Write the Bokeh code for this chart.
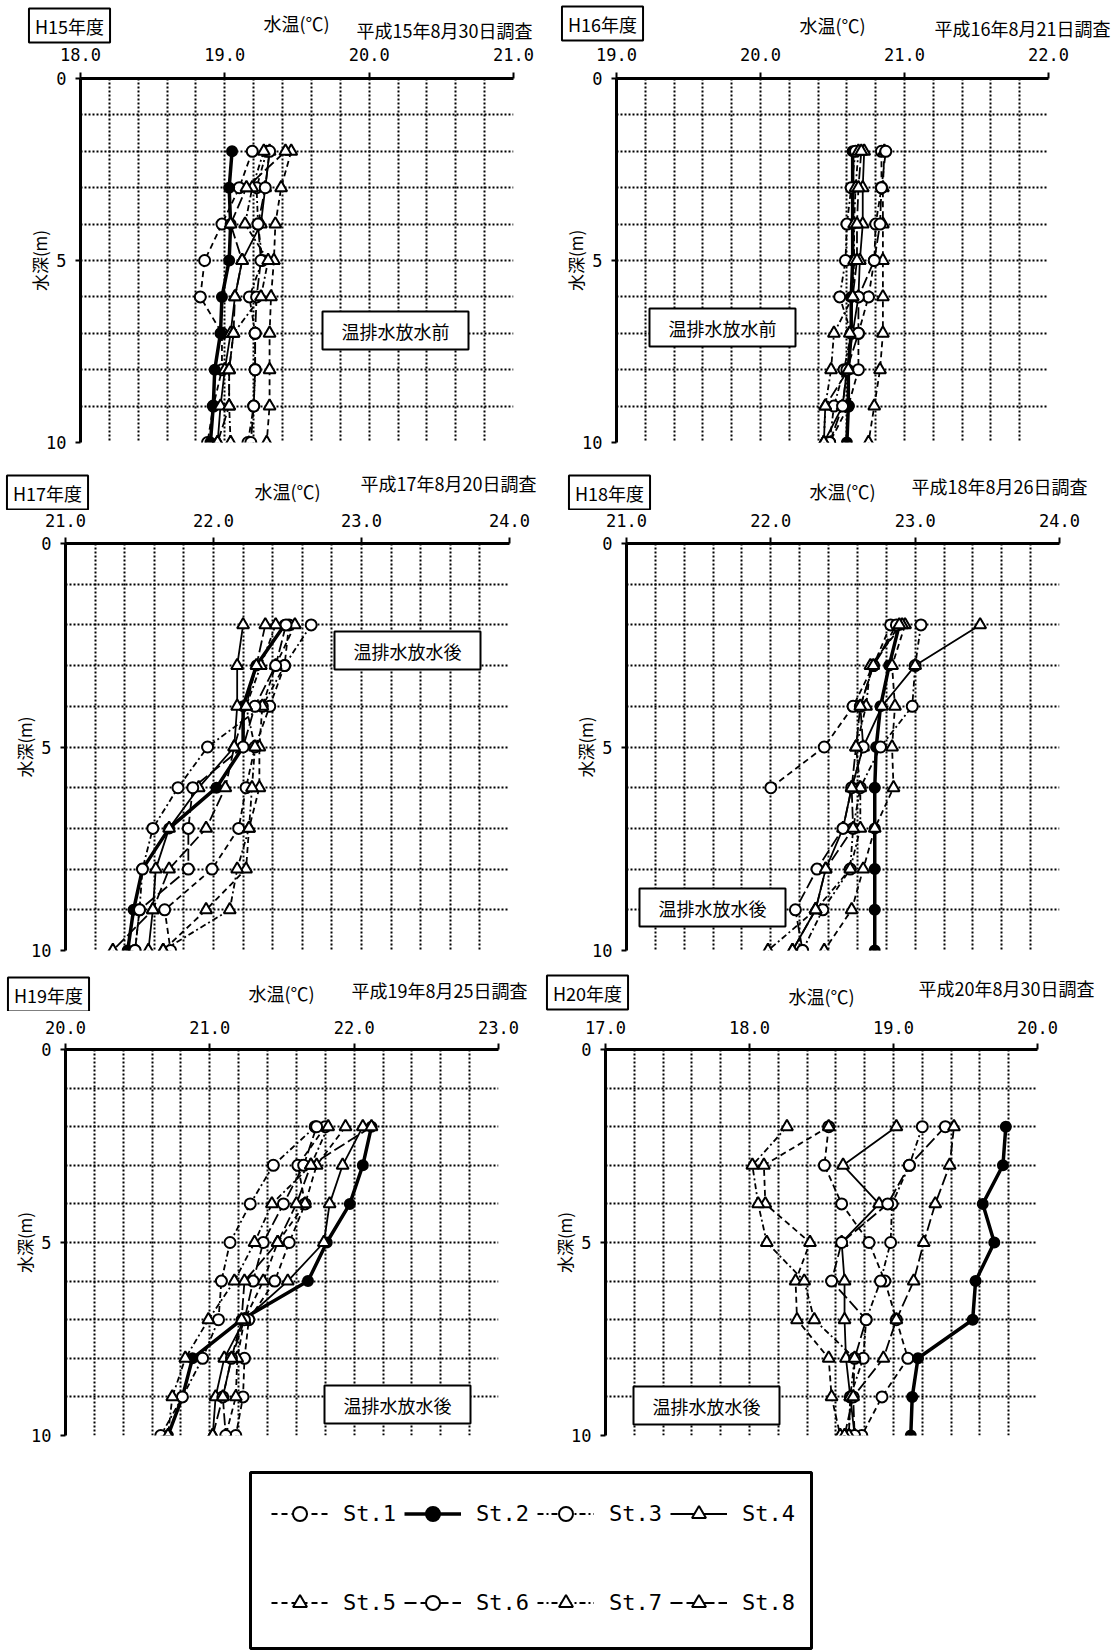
import numpy as np
from bokeh.plotting import figure
from bokeh.models import Range1d, FixedTicker, NumeralTickFormatter, Label, Legend, LegendItem, Spacer
from bokeh.layouts import column, row
from bokeh.embed import file_html
from bokeh.resources import INLINE

# ---------------- data ----------------
DEPTHS = [2, 3, 4, 5, 6, 7, 8, 9, 10]
STATIONS = ["St.1", "St.2", "St.3", "St.4", "St.5", "St.6", "St.7", "St.8"]
YEAR_TAGS = ["H15年度", "H16年度", "H17年度", "H18年度", "H19年度", "H20年度"]
SURVEY_DATES = ["平成15年8月30日調査", "平成16年8月21日調査", "平成17年8月20日調査",
                "平成18年8月26日調査", "平成19年8月25日調査", "平成20年8月30日調査"]
PHASE_NOTES = ["温排水放水前", "温排水放水前", "温排水放水後", "温排水放水後", "温排水放水後", "温排水放水後"]
TEMP_RANGES = [(18.0, 21.0), (19.0, 22.0), (21.0, 24.0), (21.0, 24.0), (20.0, 23.0), (17.0, 20.0)]
DEPTH_TICKS = [0, 5, 10]
X_LABEL = "水温(℃)"
Y_LABEL = "水深(m)"

# temperatures (°C) per station St.1..St.8 at depths 2..10 m
H15 = [
    [19.19, 19.10, 18.98, 18.86, 18.83, 18.98, 18.98, 18.92, 18.88],
    [19.05, 19.03, 19.04, 19.03, 18.98, 18.97, 18.93, 18.92, 18.90],
    [19.29, 19.22, 19.23, 19.26, 19.17, 19.21, 19.21, 19.20, 19.16],
    [19.31, 19.28, 19.25, 19.12, 19.07, 19.04, 19.00, 18.97, 18.95],
    [19.46, 19.39, 19.35, 19.34, 19.32, 19.31, 19.31, 19.31, 19.29],
    [19.31, 19.28, 19.23, 19.25, 19.22, 19.21, 19.21, 19.20, 19.18],
    [19.27, 19.19, 19.14, 19.30, 19.25, 19.06, 19.03, 19.03, 19.04],
    [19.42, 19.15, 19.04, 19.12, 19.07, 19.06, 19.03, 19.03, 18.95],
]
H16 = [
    [20.84, 20.84, 20.80, 20.79, 20.75, 20.68, 20.68, 20.61, 20.48],
    [20.64, 20.64, 20.64, 20.64, 20.63, 20.63, 20.61, 20.61, 20.60],
    [20.66, 20.63, 20.60, 20.59, 20.55, 20.63, 20.58, 20.51, 20.48],
    [20.72, 20.71, 20.71, 20.69, 20.68, 20.64, 20.60, 20.57, 20.44],
    [20.86, 20.85, 20.85, 20.85, 20.85, 20.85, 20.83, 20.79, 20.75],
    [20.87, 20.84, 20.83, 20.79, 20.68, 20.68, 20.60, 20.57, 20.48],
    [20.68, 20.66, 20.65, 20.65, 20.64, 20.51, 20.49, 20.45, 20.44],
    [20.70, 20.68, 20.67, 20.67, 20.64, 20.62, 20.61, 20.45, 20.44],
]
H17 = [
    [22.51, 22.48, 22.38, 22.28, 22.22, 22.17, 21.99, 21.67, 21.71],
    [22.48, 22.29, 22.20, 22.20, 22.02, 21.70, 21.52, 21.46, 21.42],
    [22.66, 22.48, 22.33, 21.96, 21.76, 21.59, 21.52, 21.50, 21.47],
    [22.20, 22.16, 22.16, 22.14, 21.90, 21.70, 21.61, 21.59, 21.56],
    [22.55, 22.42, 22.33, 22.31, 22.31, 22.24, 22.22, 21.95, 21.66],
    [22.49, 22.42, 22.28, 22.20, 21.86, 21.83, 21.83, 21.50, 21.47],
    [22.42, 22.32, 22.22, 22.28, 22.26, 22.24, 22.16, 22.11, 21.66],
    [22.35, 22.29, 22.22, 22.14, 22.08, 21.95, 21.70, 21.59, 21.32],
]
H18 = [
    [22.83, 22.71, 22.57, 22.37, 22.00, None, None, None, None],
    [22.89, 22.82, 22.76, 22.73, 22.72, 22.72, 22.72, 22.72, 22.72],
    [23.04, 23.00, 22.98, 22.76, 22.62, 22.57, 22.55, 22.36, 22.22],
    [23.45, 23.00, 22.77, 22.64, 22.56, 22.50, 22.38, 22.31, 22.15],
    [22.93, 22.84, 22.86, 22.84, 22.85, 22.72, 22.64, 22.56, 22.37],
    [22.87, 22.71, 22.62, 22.64, 22.56, 22.50, 22.32, 22.17, 22.22],
    [22.91, 22.69, 22.66, 22.59, 22.62, 22.62, 22.55, 22.31, 21.98],
    [22.89, 22.71, 22.62, 22.59, 22.56, 22.57, 22.38, 22.31, 22.15],
]
H19 = [
    [21.80, 21.61, 21.66, 21.55, 21.45, 21.27, 21.24, 21.23, 21.18],
    [22.12, 22.06, 21.97, 21.81, 21.68, 21.22, 20.88, 20.81, 20.71],
    [21.73, 21.44, 21.28, 21.14, 21.08, 21.06, 20.95, 20.81, 20.66],
    [22.06, 21.92, 21.83, 21.79, 21.54, 21.24, 21.10, 21.04, 21.02],
    [21.94, 21.74, 21.66, 21.47, 21.37, 21.24, 21.19, 21.18, 21.11],
    [21.74, 21.65, 21.51, 21.37, 21.30, 21.24, 21.15, 21.09, 21.11],
    [21.82, 21.70, 21.43, 21.31, 21.17, 20.99, 20.83, 20.74, 20.71],
    [22.12, 21.70, 21.60, 21.47, 21.24, 21.22, 21.15, 21.09, 21.02],
]
H20 = [
    [18.55, 18.52, 18.64, 18.83, 18.94, 19.02, 19.10, 18.92, 18.78],
    [19.78, 19.76, 19.62, 19.70, 19.57, 19.55, 19.17, 19.13, 19.12],
    [19.20, 19.11, 18.99, 18.98, 18.91, 18.81, 18.79, 18.70, 18.69],
    [19.02, 18.65, 18.90, 18.64, 18.66, 18.66, 18.67, 18.70, 18.73],
    [18.55, 18.10, 18.11, 18.42, 18.32, 18.33, 18.55, 18.57, 18.63],
    [19.36, 19.11, 18.96, 18.64, 18.57, 18.81, 18.73, 18.72, 18.73],
    [18.26, 18.02, 18.06, 18.12, 18.38, 18.45, 18.73, 18.70, 18.69],
    [19.42, 19.39, 19.29, 19.21, 19.14, 19.02, 18.93, 18.72, 18.66],
]
PANEL_DATA = [H15, H16, H17, H18, H19, H20]

# ---------------- styles ----------------
STYLES = [
    dict(dash="6 4", marker="circle", fill="white", lw=1.8, size=11),
    dict(dash="solid", marker="circle", fill="black", lw=3.5, size=10),
    dict(dash="6 3 2 3", marker="circle", fill="white", lw=1.8, size=11),
    dict(dash="solid", marker="triangle", fill="white", lw=1.8, size=12),
    dict(dash="6 4", marker="triangle", fill="white", lw=1.8, size=12),
    dict(dash="12 4", marker="circle", fill="white", lw=1.8, size=11),
    dict(dash="6 3 2 3", marker="triangle", fill="white", lw=1.8, size=12),
    dict(dash="12 4", marker="triangle", fill="white", lw=1.8, size=12),
]

JP = "Noto Sans CJK JP"
NUM = "DejaVu Sans Mono"

# page-pixel layout: header canvas (x, y, w, h), plot canvas (x, y, w, h), frame (l, t, r, b)
LAYOUT = [
    dict(head=(0, 0, 560, 44), canvas=(0, 44, 560, 426), frame=(80, 76, 513, 442),
         tag=(69, 25), title=(296, 22), date=(532, 29), note=(395, 330), tstand=12),
    dict(head=(560, 0, 560, 44), canvas=(560, 44, 560, 426), frame=(616, 78, 1048, 443),
         tag=(602, 23), title=(832, 24), date=(1110, 27), note=(722, 328), tstand=12),
    dict(head=(0, 470, 560, 40), canvas=(0, 510, 560, 455), frame=(65, 541, 509, 950),
         tag=(47, 492), title=(287, 490), date=(536, 482), note=(407, 650), tstand=11),
    dict(head=(560, 470, 560, 40), canvas=(560, 510, 560, 455), frame=(626, 541, 1059, 951),
         tag=(609, 492), title=(842, 490), date=(1087, 485), note=(712, 908), tstand=11),
    dict(head=(0, 965, 538, 46), canvas=(0, 1011, 538, 449), frame=(65, 1041, 498, 1443),
         tag=(48, 994), title=(281, 992), date=(527, 989), note=(397, 1412), tstand=10),
    dict(head=(538, 965, 582, 46), canvas=(538, 1011, 582, 449), frame=(605, 1049, 1037, 1435),
         tag=(587, 992), title=(821, 995), date=(1094, 987), note=(706, 1405), tstand=10),
]


def text_label(X, Y, x0, y0, text, align="center", boxed=False, pad=(6, 6)):
    kw = {}
    if boxed:
        kw = dict(border_line_color="black", border_line_width=2,
                  background_fill_color="white",
                  padding=dict(left=pad[0], right=pad[0], top=pad[1], bottom=pad[1]))
    return Label(x=X - x0, y=y0 - Y, x_units="screen", y_units="screen", text=text,
                 text_font=JP, text_font_size="18px", text_color="black",
                 text_align=align, text_baseline="middle", **kw)


def make_header(i):
    L = LAYOUT[i]
    hx, hy, hw, hh = L["head"]
    h = figure(width=hw, height=hh, x_range=Range1d(0, 1), y_range=Range1d(0, 1),
               x_axis_location=None, y_axis_location=None, output_backend="svg",
               toolbar_location=None, min_border=0, outline_line_color=None)
    h.grid.visible = False
    h.add_layout(text_label(*L["tag"], hx, hy + hh, YEAR_TAGS[i], boxed=True, pad=(6, 4)))
    h.add_layout(text_label(*L["title"], hx, hy + hh, X_LABEL))
    h.add_layout(text_label(*L["date"], hx, hy + hh, SURVEY_DATES[i], align="right"))
    return h


def make_panel(i):
    L = LAYOUT[i]
    cx, cy, W, H = L["canvas"]
    fl, ft, fr, fb = L["frame"]
    lo, hi = TEMP_RANGES[i]
    p = figure(width=W, height=H, x_range=Range1d(lo, hi), y_range=Range1d(10, 0),
               x_axis_location="above", output_backend="svg", toolbar_location=None,
               min_border_left=fl - cx, min_border_top=ft - cy,
               min_border_right=cx + W - fr, min_border_bottom=cy + H - fb,
               outline_line_color=None, background_fill_color="white", border_fill_color="white")
    xa = p.xaxis[0]
    xa.ticker = FixedTicker(ticks=list(np.arange(lo, hi + 0.5, 1.0)))
    xa.formatter = NumeralTickFormatter(format="0.0")
    ya = p.yaxis[0]
    ya.ticker = FixedTicker(ticks=DEPTH_TICKS)
    ya.axis_label = Y_LABEL
    for ax in (xa, ya):
        ax.axis_line_width = 3
        ax.axis_line_color = "black"
        ax.major_tick_line_width = 2
        ax.major_tick_line_color = "black"
        ax.major_tick_in = 0
        ax.minor_tick_in = 0
        ax.minor_tick_out = 0
        ax.major_label_text_font = NUM
        ax.major_label_text_font_size = "17px"
        ax.major_label_text_color = "black"
        ax.axis_label_text_font = JP
        ax.axis_label_text_font_size = "17px"
        ax.axis_label_text_font_style = "normal"
        ax.axis_label_text_color = "black"
    xa.major_tick_out = 6
    xa.major_label_standoff = L["tstand"]
    ya.major_tick_out = 5
    ya.major_label_standoff = 9
    ya.axis_label_standoff = -9
    p.xgrid.ticker = FixedTicker(ticks=list(np.round(np.arange(lo, hi + 0.001, 0.2), 1)))
    p.ygrid.ticker = FixedTicker(ticks=list(range(0, 11)))
    for g in (p.xgrid, p.ygrid):
        g.grid_line_color = "black"
        g.grid_line_dash = "2 2"
        g.grid_line_width = 2
        g.grid_line_alpha = 1.0

    temps = PANEL_DATA[i]
    depths = np.array(DEPTHS, dtype=float)
    for s in range(8):
        st = STYLES[s]
        t = np.array(temps[s], dtype=float)
        p.line(t, depths, line_color="black", line_width=st["lw"], line_dash=st["dash"])
    for s in range(8):
        st = STYLES[s]
        t = np.array(temps[s], dtype=float)
        ok = ~np.isnan(t)
        p.scatter(t[ok], depths[ok], marker=st["marker"], size=st["size"],
                  fill_color=st["fill"], line_color="black", line_width=2)
    p.add_layout(text_label(*L["note"], fl, fb, PHASE_NOTES[i], boxed=True, pad=(19, 6)))
    return p


headers = [make_header(i) for i in range(6)]
panels = [make_panel(i) for i in range(6)]

# ---------------- legend ----------------
leg = figure(width=565, height=180, x_range=Range1d(0, 1), y_range=Range1d(0, 1),
             x_axis_location=None, y_axis_location=None, output_backend="svg",
             toolbar_location=None, min_border=2, outline_line_color="black",
             outline_line_width=3)
leg.grid.visible = False
items = []
for s in range(8):
    st = STYLES[s]
    t = np.array(H15[s], dtype=float)
    d = np.array(DEPTHS, dtype=float)
    rl = leg.line(t, d, line_color="black", line_width=st["lw"], line_dash=st["dash"])
    rs = leg.scatter(t, d, marker=st["marker"], size=st["size"], fill_color=st["fill"],
                     line_color="black", line_width=2)
    items.append(LegendItem(label=STATIONS[s], renderers=[rl, rs]))
for k, loc in enumerate([(21, 117), (21, 28)]):
    lg = Legend(items=items[4 * k:4 * k + 4], orientation="horizontal", location=loc,
                glyph_width=57, glyph_height=35, label_standoff=15, spacing=8,
                padding=0, margin=0, border_line_color=None, background_fill_alpha=0,
                label_text_font=NUM, label_text_font_size="22px", label_text_color="black")
    leg.add_layout(lg)

layout = column(row(headers[0], headers[1]), row(panels[0], panels[1]),
                row(headers[2], headers[3]), row(panels[2], panels[3]),
                row(headers[4], headers[5]), row(panels[4], panels[5]),
                Spacer(height=10), row(Spacer(width=248), leg))

open("out.html", "w").write(file_html(layout, INLINE))
